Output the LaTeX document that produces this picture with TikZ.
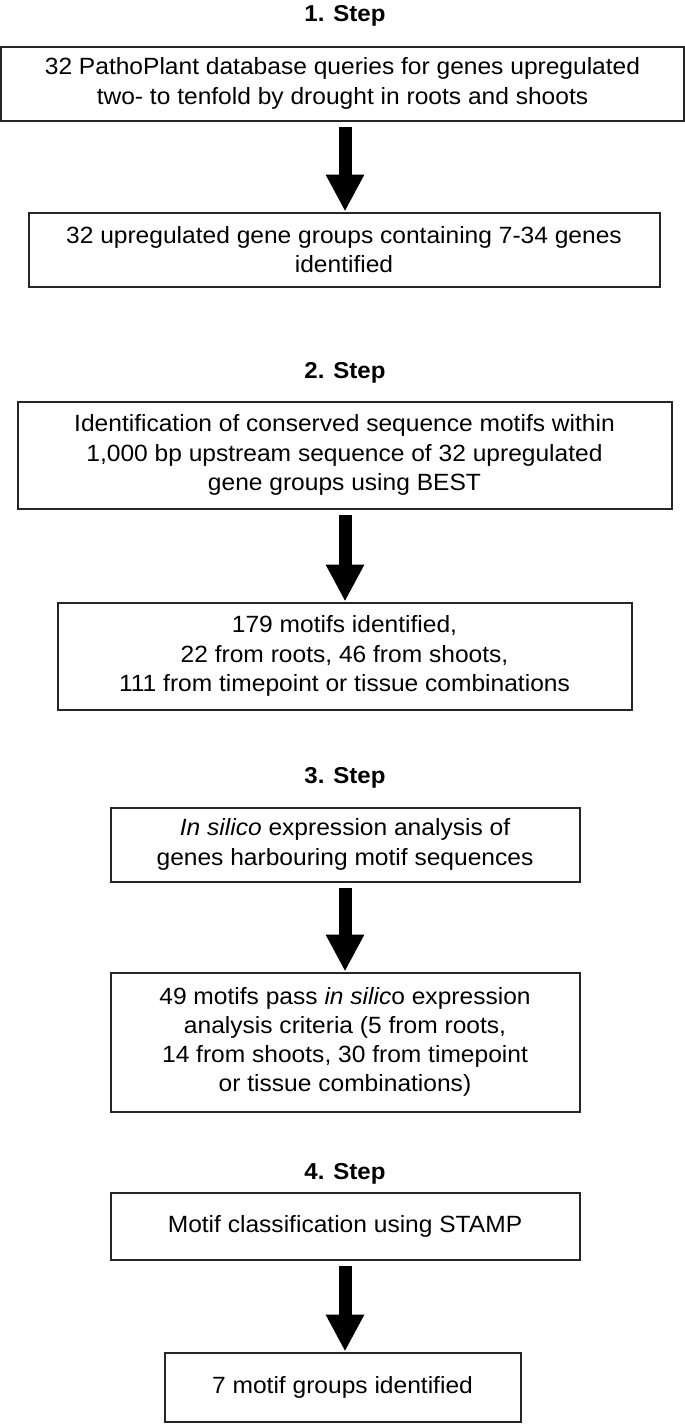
\documentclass[tikz,border=0pt]{standalone}
\usepackage{fontspec}
\setmainfont[FakeStretch=1.045]{Liberation Sans}
\usetikzlibrary{arrows.meta}
\tikzset{
  box/.style={draw=black!85, line width=2pt, align=center, inner sep=0pt,
    font=\fontsize{23.5}{29.2}\selectfont},
  steptitle/.style={anchor=base, inner sep=0pt, font=\fontsize{23}{29}\selectfont\bfseries},
  bigarrow/.style={line width=13pt, -{Triangle[width=36pt,length=37pt]}, black}
}
\begin{document}
\begin{tikzpicture}[x=1pt,y=-1pt]
\useasboundingbox (0,0) rectangle (685,1424);
\node[steptitle] (t1) at (345,21) {1. Step};
\node[box, minimum width=683pt, minimum height=74pt] (b1) at (342.5,83.5)
  {32 PathoPlant database queries for genes upregulated\\two- to tenfold by drought in roots and shoots};
\node[box, minimum width=631pt, minimum height=74pt] (b2) at (344,249.5)
  {32 upregulated gene groups containing 7-34 genes\\identified};
\node[steptitle] (t2) at (345,378) {2. Step};
\node[box, minimum width=654pt, minimum height=107pt] (b3) at (344.5,455)
  {Identification of conserved sequence motifs within\\1,000 bp upstream sequence of 32 upregulated\\gene groups using BEST};
\node[box, minimum width=574pt, minimum height=107pt] (b4) at (344.5,656)
  {179 motifs identified,\\22 from roots, 46 from shoots,\\111 from timepoint or tissue combinations};
\node[steptitle] (t3) at (345,783) {3. Step};
\node[box, minimum width=469pt, minimum height=74pt] (b5) at (345,844.5)
  {\textit{In silico} expression analysis of\\genes harbouring motif sequences};
\node[box, minimum width=469pt, minimum height=139pt] (b6) at (345,1042)
  {49 motifs pass \textit{in silic}o expression\\analysis criteria (5 from roots,\\14 from shoots, 30 from timepoint\\or tissue combinations)};
\node[steptitle] (t4) at (345,1179) {4. Step};
\node[box, minimum width=469pt, minimum height=67pt] (b7) at (345,1226)
  {Motif classification using STAMP};
\node[box, minimum width=356pt, minimum height=69pt] (b8) at (342.5,1387)
  {7 motif groups identified};
\draw[bigarrow] ([yshift=-5pt]b1.south -| 345,0) -- (b2.north -| 345,0);
\draw[bigarrow] ([yshift=-5pt]b3.south -| 345,0) -- (b4.north -| 345,0);
\draw[bigarrow] ([yshift=-5pt]b5.south -| 345,0) -- (b6.north -| 345,0);
\draw[bigarrow] ([yshift=-5pt]b7.south -| 345,0) -- (b8.north -| 345,0);
\end{tikzpicture}
\end{document}
